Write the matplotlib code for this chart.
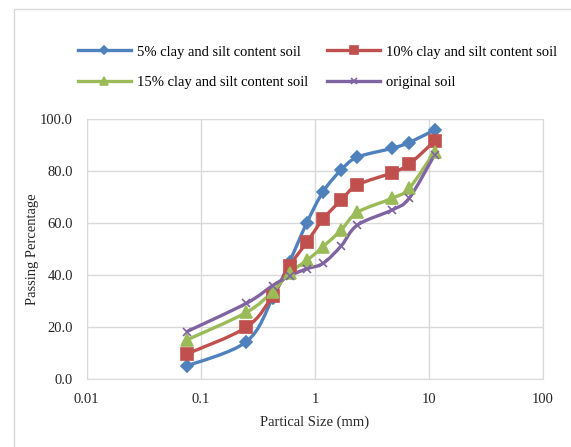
#grain size distribution curves

import matplotlib.pyplot as plt
from matplotlib.path import Path
from matplotlib.patches import PathPatch, Rectangle
from matplotlib.lines import Line2D
import numpy as np

plt.rcParams['font.family'] = ['Liberation Serif', 'DejaVu Serif']

#----------------------------------------------------------------------------------

sieve_size = [0.075, 0.25, 0.425, 0.6, 0.85, 1.18, 1.7, 2.36, 4.75, 6.7, 11.2]

clay_5 = [5.0, 14.3, 31.0, 45.1, 60.1, 72.0, 80.4, 85.3, 88.7, 90.9, 95.8]
clay_10 = [9.6, 19.9, 31.9, 43.5, 52.6, 61.5, 68.8, 74.6, 79.3, 82.6, 91.5]
clay_15 = [15.0, 25.6, 33.6, 40.9, 45.6, 50.9, 57.3, 64.1, 69.5, 73.3, 87.4]
original = [18.2, 29.1, 35.9, 39.7, 42.4, 44.5, 51.2, 59.2, 65.0, 69.5, 86.2]

series_labels = ["5% clay and silt content soil", "10% clay and silt content soil",
                 "15% clay and silt content soil", "original soil"]

y_ticks = [0, 20, 40, 60, 80, 100]
x_ticks = [0.01, 0.1, 1, 10, 100]
x_tick_labels = ["0.01", "0.1", "1", "10", "100"]

#----------------------------------------------------------------------------------

#smooth curve through the points (excel style), built as cubic bezier segments
#in log(x) space so it looks right on the log axis
def smooth_path(x, y, t=1.0 / 6.0):
    lx = np.log10(x)
    y = np.asarray(y, dtype=float)
    n = len(lx)
    verts = [(x[0], y[0])]
    codes = [Path.MOVETO]
    for i in range(n - 1):
        x0, y0 = (lx[i - 1], y[i - 1]) if i > 0 else (lx[i], y[i])
        x3, y3 = (lx[i + 2], y[i + 2]) if i + 2 < n else (lx[i + 1], y[i + 1])
        c1 = (lx[i] + t * (lx[i + 1] - x0), y[i] + t * (y[i + 1] - y0))
        c2 = (lx[i + 1] - t * (x3 - lx[i]), y[i + 1] - t * (y3 - y[i]))
        verts += [(10 ** c1[0], c1[1]), (10 ** c2[0], c2[1]), (x[i + 1], y[i + 1])]
        codes += [Path.CURVE4, Path.CURVE4, Path.CURVE4]
    return Path(verts, codes)

#----------------------------------------------------------------------------------

fig = plt.figure(figsize=(5.71, 4.47), dpi=100)
ax = fig.add_axes([0.152, 0.152, 0.799, 0.582])

#chart area border
fig.patches.append(Rectangle((14 / 571, -0.05), 1.0, 1.05 - 9 / 447, transform=fig.transFigure,
                             fill=False, edgecolor="#d9d9d9", linewidth=1.0))

styles = [
    (clay_5, "#4F81BD", "D", 6),
    (clay_10, "#C0504D", "s", 8),
    (clay_15, "#9BBB59", "^", 8),
    (original, "#8064A2", "x", 6),
]

handles = []
for (values, color, marker, msize), label in zip(styles, series_labels):
    ax.add_patch(PathPatch(smooth_path(sieve_size, values), facecolor="none",
                           edgecolor=color, linewidth=2.4, zorder=3))
    ax.plot(sieve_size, values, linestyle="none", marker=marker, markersize=msize,
            color=color, markeredgecolor=color, markeredgewidth=1.2, zorder=4)
    handles.append(Line2D([], [], color=color, linewidth=2.4, marker=marker,
                          markersize=msize * 0.75, markeredgewidth=1.2, label=label))

ax.set_xscale("log")
ax.set_xlim(0.01, 100)
ax.set_ylim(0, 100)
ax.set_xticks(x_ticks)
ax.set_xticklabels(x_tick_labels)
ax.minorticks_off()
ax.set_yticks(y_ticks)
ax.set_yticklabels(["%.1f" % v for v in y_ticks])
ax.tick_params(length=0, labelsize=10.5, colors="#262626")
ax.tick_params(axis="y", pad=10)
ax.tick_params(axis="x", pad=10)
ax.grid(color="#d9d9d9", linewidth=1.0)
ax.set_axisbelow(True)
for spine in ax.spines.values():
    spine.set_color("#d9d9d9")

ax.set_xlabel("Partical Size (mm)", fontsize=10.5, color="#262626", labelpad=7)
ax.set_ylabel("Passing Percentage", fontsize=10.5, color="#262626", labelpad=1)

#legend fills column by column, so reorder to get the rows right
legend_order = [0, 2, 1, 3]
fig.legend(handles=[handles[i] for i in legend_order], ncol=2, loc="upper left",
           bbox_to_anchor=(0.114, 0.928), frameon=False, fontsize=10.5,
           handlelength=3.6, columnspacing=1.35, handletextpad=0.4, labelspacing=1.2)

#----------------------------------------------------------------------------------

fig.savefig("out.png", dpi=100)
